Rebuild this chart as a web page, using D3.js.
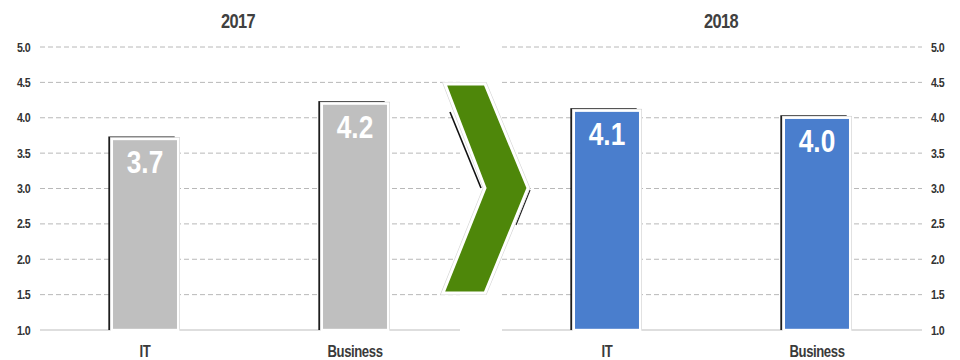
<!DOCTYPE html>
<html>
<head>
<meta charset="utf-8">
<script src="https://cdn.jsdelivr.net/npm/d3@7"></script>
<style>
  html, body { margin: 0; padding: 0; background: #fff; }
  svg { display: block; }
</style>
</head>
<body>
<svg id="chart" width="960" height="360"></svg>
<script>
// Survey scores by area, two years side by side
const categories = ["IT", "Business"];
const years = ["2017", "2018"];
const values2017 = [3.7, 4.2];
const values2018 = [4.1, 4.0];
const tickValues = [1.0, 1.5, 2.0, 2.5, 3.0, 3.5, 4.0, 4.5, 5.0];
const tickLabels = ["1.0", "1.5", "2.0", "2.5", "3.0", "3.5", "4.0", "4.5", "5.0"];

const svg = d3.select("#chart");
const font = '"Liberation Sans", Arial, sans-serif';
const NARROW = 0.82; // horizontal squeeze for a condensed look

// text placed at (x, y) and squeezed horizontally around that anchor
function narrowText(sel, xFn, yFn) {
  return sel.attr("transform", (d, i) =>
    `translate(${typeof xFn === "function" ? xFn(d, i) : xFn},${typeof yFn === "function" ? yFn(d, i) : yFn}) scale(${NARROW},1)`);
}

const y = d3.scaleLinear().domain([1, 5]).range([330, 47]);

const panels = [
  { year: years[0], values: values2017, range: [40, 460], color: "#bfbfbf", axis: "left", axisX: 30, titleX: 238 },
  { year: years[1], values: values2018, range: [502, 922], color: "#4a7ecd", axis: "right", axisX: 931, titleX: 721 }
];

panels.forEach(p => {
  const x = d3.scaleBand().domain(categories).range(p.range)
    .paddingInner(0.684).paddingOuter(0.342);
  const g = svg.append("g");

  // dashed gridlines
  g.append("g").selectAll("line").data(tickValues.slice(1)).join("line")
    .attr("x1", p.range[0]).attr("x2", p.range[1])
    .attr("y1", d => y(d)).attr("y2", d => y(d))
    .attr("stroke", "#b8b8b8").attr("stroke-width", 1)
    .attr("stroke-dasharray", "5,3");
  // baseline
  g.append("line")
    .attr("x1", p.range[0]).attr("x2", p.range[1])
    .attr("y1", y(1)).attr("y2", y(1))
    .attr("stroke", "#bdbdbd").attr("stroke-width", 1.2);

  // tick labels
  narrowText(g.append("g").selectAll("text").data(tickValues).join("text"),
      p.axisX, d => y(d))
    .attr("dy", "0.35em")
    .attr("text-anchor", p.axis === "left" ? "end" : "start")
    .style("font-family", font).style("font-size", "13px").style("font-weight", "bold")
    .style("letter-spacing", "-0.7px")
    .attr("fill", "#333")
    .text((d, i) => tickLabels[i]);

  // title
  narrowText(g.append("text"), p.titleX, 28)
    .attr("text-anchor", "middle")
    .style("font-family", font).style("font-size", "20px").style("font-weight", "bold")
    .style("letter-spacing", "-0.8px")
    .attr("fill", "#404040")
    .text(p.year);

  const rows = categories.map((c, i) => ({ c, v: p.values[i] }));

  // bar shadows
  g.append("g").selectAll("rect").data(rows).join("rect")
    .attr("x", d => x(d.c) - 3.5)
    .attr("y", d => y(d.v) - 2.5)
    .attr("width", x.bandwidth())
    .attr("height", d => y(1) - y(d.v) + 2.5)
    .attr("fill", "#1e1e1e");
  // thin light outline
  g.append("g").selectAll("rect").data(rows).join("rect")
    .attr("x", d => x(d.c) - 1.8)
    .attr("y", d => y(d.v) - 1.8)
    .attr("width", x.bandwidth() + 3.6)
    .attr("height", d => y(1) - y(d.v) + 1.8)
    .attr("fill", "#d0d0d0");
  // bars
  g.append("g").selectAll("rect").data(rows).join("rect")
    .attr("x", d => x(d.c))
    .attr("y", d => y(d.v))
    .attr("width", x.bandwidth())
    .attr("height", d => y(1) - y(d.v))
    .attr("fill", p.color)
    .attr("stroke", "#fff").attr("stroke-width", 2.4);

  // value labels
  narrowText(g.append("g").selectAll("text").data(rows).join("text"),
      d => x(d.c) + x.bandwidth() / 2, d => y(d.v) + 34)
    .attr("text-anchor", "middle")
    .style("font-family", font).style("font-size", "32px").style("font-weight", "bold")
    .attr("fill", "#fff")
    .text(d => d.v.toFixed(1));

  // category labels
  narrowText(g.append("g").selectAll("text").data(rows).join("text"),
      d => x(d.c) + x.bandwidth() / 2, 357)
    .attr("text-anchor", "middle")
    .style("font-family", font).style("font-size", "16px").style("font-weight", "bold")
    .style("letter-spacing", "-0.5px")
    .attr("fill", "#3a3a3a")
    .text(d => d.c);
});

// chevron pointing from one year to the next
const chev = [[445, 84], [485, 84], [528, 188], [485, 293], [443, 293], [485, 188]];
const arrow = svg.append("g");
// shadow edges
arrow.append("path")
  .attr("d", d3.line()([[450, 112], [481, 188]]))
  .attr("stroke", "#111").attr("stroke-width", 1.6).attr("fill", "none");
arrow.append("path")
  .attr("d", d3.line()([[530, 190], [516, 225]]))
  .attr("stroke", "#222").attr("stroke-width", 1.2).attr("fill", "none");
// light outer rim, then white border and green fill
arrow.append("path")
  .attr("d", d3.line()(chev) + "Z")
  .attr("fill", "none")
  .attr("stroke", "#d4d4d4").attr("stroke-width", 4.2).attr("stroke-linejoin", "miter");
arrow.append("path")
  .attr("d", d3.line()(chev) + "Z")
  .attr("fill", "#4e870a")
  .attr("stroke", "#fff").attr("stroke-width", 3).attr("stroke-linejoin", "miter");
</script>
</body>
</html>
